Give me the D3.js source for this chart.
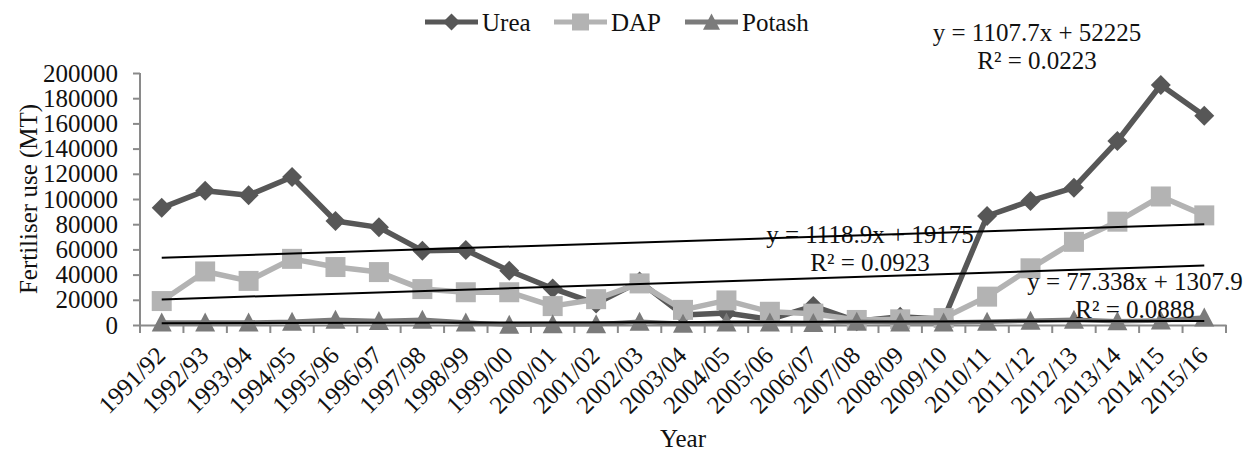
<!DOCTYPE html>
<html>
<head>
<meta charset="utf-8">
<script src="https://cdn.jsdelivr.net/npm/d3@7"></script>
<style>
  body { margin: 0; background: #fff; }
  svg { display: block; font-family: "Liberation Serif", "Times New Roman", serif; }
</style>
</head>
<body>
<svg id="chart"></svg>
<script>
// categories (x axis)
const years = ["1991/92", "1992/93", "1993/94", "1994/95", "1995/96", "1996/97", "1997/98",
  "1998/99", "1999/00", "2000/01", "2001/02", "2002/03", "2003/04", "2004/05", "2005/06",
  "2006/07", "2007/08", "2008/09", "2009/10", "2010/11", "2011/12", "2012/13", "2013/14",
  "2014/15", "2015/16"];

// series values (MT)
const urea = [93000, 106500, 103000, 117500, 82500, 77500, 59000, 59500, 43000, 29000, 17000,
  34500, 8000, 9500, 4500, 15000, 3000, 6500, 4500, 86500, 98500, 109000, 146000, 190500, 166000];
const dap = [19000, 42500, 35000, 52500, 46000, 42000, 28500, 26000, 26000, 15000, 20500,
  33000, 12000, 19500, 10500, 9000, 4000, 4500, 5500, 22500, 45000, 66000, 82000, 102000, 87000];
const potash = [2000, 2000, 2000, 2500, 4200, 3100, 4200, 2000, 200, 600, 600, 2500, 1000,
  2000, 2000, 1500, 2500, 2000, 2000, 2500, 3400, 4200, 3000, 3500, 6000];

// linear trend lines (slope, intercept) as printed on the chart
const trendSlope = [1107.7, 1118.9, 77.338];
const trendIntercept = [52225, 19175, 1307.9];
const trendEq = ["y = 1107.7x + 52225", "y = 1118.9x + 19175", "y = 77.338x + 1307.9"];
const trendR2 = ["R² = 0.0223", "R² = 0.0923", "R² = 0.0888"];

const yTicks = [0, 20000, 40000, 60000, 80000, 100000, 120000, 140000, 160000, 180000, 200000];
const seriesNames = ["Urea", "DAP", "Potash"];

const w = 1255;
const h = 454;
const margin = { top: 73, right: 29, bottom: 129, left: 140 };
const colors = ["#575757", "#b3b3b3", "#7b7b7b"];
const shapes = ["diamond", "square", "triangle"];
const fontSize = 25;

const svg = d3.select("#chart").attr("width", w).attr("height", h);
svg.append("rect").attr("width", w).attr("height", h).attr("fill", "#fff");

const xScale = d3.scaleBand().domain(years).range([margin.left, w - margin.right]);
const xc = (d) => xScale(d) + xScale.bandwidth() / 2;
const yScale = d3.scaleLinear().domain([0, 200000]).range([h - margin.bottom, margin.top]);
// trend x (1..n) onto category centres
const xIdx = d3.scaleLinear().domain([1, years.length]).range([xc(years[0]), xc(years[years.length - 1])]);

// marker path generator
const marker = (shape, s) => {
  const r = s / 2;
  if (shape === "diamond") return `M0,${-r}L${r},0L0,${r}L${-r},0Z`;
  if (shape === "square") return `M${-r},${-r}H${r}V${r}H${-r}Z`;
  return `M0,${-r}L${r},${r * 0.9}L${-r},${r * 0.9}Z`;
};

// y axis
const yAxis = d3.axisLeft(yScale).tickValues(yTicks).tickSize(7).tickPadding(15).tickFormat(d3.format("d"));
const gy = svg.append("g").attr("transform", `translate(${margin.left},0)`).call(yAxis)
  .attr("font-family", null).attr("font-size", null);
gy.select(".domain").attr("stroke", "#8a8a8a").attr("stroke-width", 2).attr("d", `M0,${yScale(0)}V${yScale(200000)}`);
gy.selectAll(".tick line").attr("stroke", "#8a8a8a").attr("stroke-width", 2);
gy.selectAll("text").attr("font-size", fontSize).attr("fill", "#111");

// x axis
const xAxis = d3.axisBottom(xScale).tickSize(0).tickPadding(0);
const gx = svg.append("g").attr("transform", `translate(0,${yScale(0)})`).call(xAxis)
  .attr("font-family", null).attr("font-size", null);
gx.select(".domain").attr("stroke", "#8a8a8a").attr("stroke-width", 2);
gx.selectAll("text")
  .attr("font-size", fontSize)
  .attr("fill", "#111")
  .attr("text-anchor", "end")
  .attr("y", 0)
  .attr("dy", 0)
  .attr("transform", "translate(5,32) rotate(-45)");
// boundary ticks between categories
const edges = years.map((d) => xScale(d)).concat([xScale.range()[1]]);
gx.selectAll(".edge")
  .data(edges)
  .enter()
  .append("line")
  .attr("class", "edge")
  .attr("x1", (d) => d)
  .attr("x2", (d) => d)
  .attr("y1", 0)
  .attr("y2", 8)
  .attr("stroke", "#8a8a8a")
  .attr("stroke-width", 2);

// axis titles
svg.append("text")
  .attr("transform", `translate(37,${(yScale(0) + yScale(200000)) / 2}) rotate(-90)`)
  .attr("text-anchor", "middle")
  .attr("font-size", fontSize)
  .attr("fill", "#111")
  .text("Fertiliser use (MT)");
svg.append("text")
  .attr("x", (margin.left + w - margin.right) / 2)
  .attr("y", 447)
  .attr("text-anchor", "middle")
  .attr("font-size", fontSize)
  .attr("fill", "#111")
  .text("Year");

// series
const allSeries = [urea, dap, potash];
const line = d3.line().x((d, i) => xc(years[i])).y((d) => yScale(d));
allSeries.forEach((vals, k) => {
  svg.append("path")
    .datum(vals)
    .attr("fill", "none")
    .attr("stroke", colors[k])
    .attr("stroke-width", k === 2 ? 4.5 : 5.5)
    .attr("stroke-linejoin", "round")
    .attr("d", line);
  svg.selectAll(".m" + k)
    .data(vals)
    .enter()
    .append("path")
    .attr("class", "m" + k)
    .attr("transform", (d, i) => `translate(${xc(years[i])},${yScale(d)})`)
    .attr("d", marker(shapes[k], k === 0 ? 20 : 20))
    .attr("fill", colors[k]);
});

// trend labels
const labelPos = [
  { x: 1037, y: 41 },
  { x: 870, y: 243 },
  { x: 1135, y: 290 },
];
trendEq.forEach((t, k) => {
  const g = svg.append("g").attr("font-size", fontSize).attr("fill", "#111").attr("text-anchor", "middle");
  g.append("text").attr("x", labelPos[k].x).attr("y", labelPos[k].y).text(t);
  g.append("text").attr("x", labelPos[k].x).attr("y", labelPos[k].y + 28).text(trendR2[k]);
});

// trend lines
trendSlope.forEach((m, k) => {
  const ends = [1, years.length];
  svg.append("path")
    .datum(ends)
    .attr("fill", "none")
    .attr("stroke", "#000")
    .attr("stroke-width", 2)
    .attr("d", d3.line().x((d) => xIdx(d)).y((d) => yScale(m * d + trendIntercept[k])));
});

// legend
const legendX = [425, 554, 685];
const legend = svg.append("g");
seriesNames.forEach((name, k) => {
  const g = legend.append("g").attr("transform", `translate(${legendX[k]},22)`);
  g.append("line").attr("x1", 0).attr("x2", 53).attr("stroke", colors[k]).attr("stroke-width", 5);
  g.append("path").attr("transform", "translate(26.5,0)").attr("d", marker(shapes[k], 17)).attr("fill", colors[k]);
  g.append("text").attr("x", 57).attr("y", 9).attr("font-size", fontSize).attr("fill", "#111").text(name);
});
</script>
</body>
</html>
